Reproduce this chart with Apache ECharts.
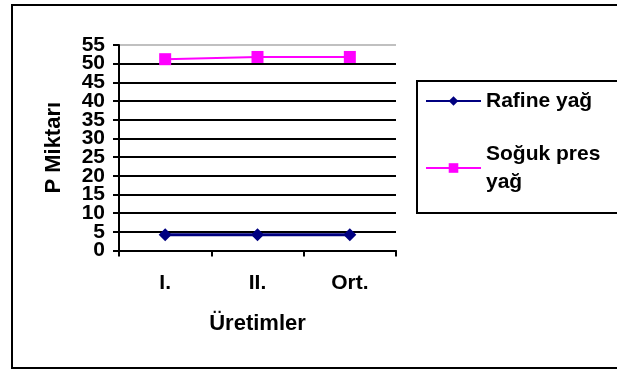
<!DOCTYPE html>
<html>
<head>
<meta charset="utf-8">
<script src="https://cdn.jsdelivr.net/npm/echarts@6/dist/echarts.min.js"></script>
<style>
  html, body { margin: 0; padding: 0; background: #fff; overflow: hidden; }
  #frame { position: absolute; left: 11px; top: 4px; width: 640px; height: 365px;
           border: 2px solid #000; box-sizing: border-box; }
  #chart { position: absolute; left: 0; top: 0; width: 617px; height: 369px; }
</style>
</head>
<body>
<div id="frame"></div>
<div id="chart"></div>
<script>
// Production runs on the category axis
const categories = ['I.', 'II.', 'Ort.'];
// P amount per oil type
const rafineYag = [4.2, 4.2, 4.2];
const sogukPresYag = [51.2, 51.8, 51.8];
const seriesNames = ['Rafine yağ', 'Soğuk pres yağ'];
const yTicks = { min: 0, max: 55, step: 5 };

const FONT = '"Liberation Sans", Arial, sans-serif';
const chart = echarts.init(document.getElementById('chart'), null, { renderer: 'canvas' });

// Grid lines: black for every level, a light grey line on top of the plot
const gridColors = [];
for (let v = yTicks.min; v <= yTicks.max; v += yTicks.step) {
  gridColors.push(v === yTicks.max ? '#c0c0c0' : '#000');
}

// The tick labels sit very close together, so they are split over two
// coincident axes (even and odd steps) to keep every one of them visible.
const isEvenStep = v => Math.round(v / yTicks.step) % 2 === 0;
const tickLabelStyle = {
  margin: 14, fontFamily: FONT, fontWeight: 'bold', fontSize: 21, color: '#000',
  showMinLabel: true, showMaxLabel: true
};

chart.setOption({
  animation: false,
  backgroundColor: 'transparent',
  grid: { left: 119, right: 221, top: 45, bottom: 118.5, containLabel: false },
  xAxis: {
    type: 'category',
    data: categories,
    boundaryGap: true,
    name: 'Üretimler',
    nameLocation: 'middle',
    nameGap: 62,
    nameTextStyle: { fontFamily: FONT, fontWeight: 'bold', fontSize: 22, color: '#000' },
    axisLine: { lineStyle: { color: '#000', width: 2 } },
    axisTick: { show: true, length: 6, interval: 0, lineStyle: { color: '#000', width: 2 } },
    axisLabel: { margin: 22, fontFamily: FONT, fontWeight: 'bold', fontSize: 21, color: '#000' },
    splitLine: { show: false }
  },
  yAxis: [
    {
      type: 'value',
      position: 'left',
      min: yTicks.min,
      max: yTicks.max,
      interval: yTicks.step,
      name: 'P Miktarı',
      nameLocation: 'middle',
      nameGap: 54,
      nameTextStyle: { fontFamily: FONT, fontWeight: 'bold', fontSize: 22, color: '#000' },
      axisLine: { show: true, lineStyle: { color: '#000', width: 2 } },
      axisTick: { show: true, length: 6, lineStyle: { color: '#000', width: 2 } },
      axisLabel: Object.assign({}, tickLabelStyle, {
        formatter: v => (isEvenStep(v) ? String(v) : '')
      }),
      splitLine: { show: true, lineStyle: { color: gridColors, width: 2 } }
    },
    {
      type: 'value',
      position: 'left',
      offset: 0,
      min: yTicks.min,
      max: yTicks.max,
      interval: yTicks.step,
      axisLine: { show: false },
      axisTick: { show: false },
      axisLabel: Object.assign({}, tickLabelStyle, {
        formatter: v => (isEvenStep(v) ? '' : String(v))
      }),
      splitLine: { show: false }
    }
  ],
  legend: {
    orient: 'vertical',
    left: 417,
    top: 81,
    padding: [6, 60, 3, 8],
    itemGap: 11,
    itemWidth: 55,
    itemHeight: 12,
    borderColor: '#000',
    borderWidth: 2,
    textStyle: { fontFamily: FONT, fontWeight: 'bold', fontSize: 21, color: '#000', lineHeight: 28 },
    formatter: function (name) {
      return name === seriesNames[1] ? 'Soğuk pres\nyağ' : name;
    },
    data: [
      { name: seriesNames[0] },
      { name: seriesNames[1], textStyle: { padding: [28, 0, 0, 0] } }
    ]
  },
  series: [
    {
      name: seriesNames[0],
      type: 'line',
      yAxisIndex: 0,
      data: rafineYag,
      symbol: 'diamond',
      symbolSize: 13,
      lineStyle: { color: '#000080', width: 3 },
      itemStyle: { color: '#000080' }
    },
    {
      name: seriesNames[1],
      type: 'line',
      yAxisIndex: 0,
      data: sogukPresYag,
      symbol: 'rect',
      symbolSize: 12,
      lineStyle: { color: '#ff00ff', width: 2 },
      itemStyle: { color: '#ff00ff' }
    }
  ]
});
</script>
</body>
</html>
